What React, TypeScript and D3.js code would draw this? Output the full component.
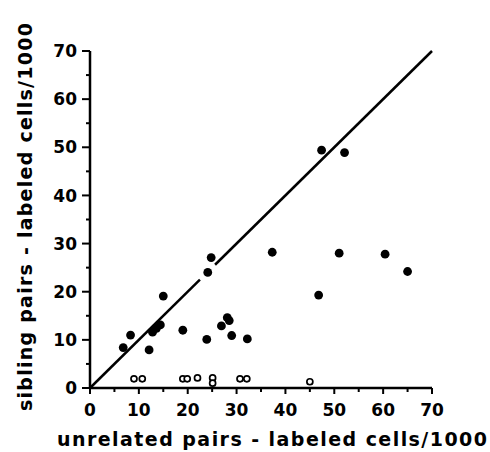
import React from "react";
import * as d3 from "d3";

// Labeled cells per 1000: unrelated pairs (x) vs sibling pairs (y)
const filledX = [6.8, 8.3, 12.1, 12.8, 13.6, 14.4, 15.0, 19.0, 23.9, 24.1, 24.8, 26.9, 28.1, 28.5, 29.0, 32.2, 37.3, 46.8, 47.4, 51.0, 52.1, 60.4, 65.0];
const filledY = [8.4, 11.0, 7.9, 11.6, 12.4, 13.1, 19.1, 12.0, 10.1, 24.0, 27.1, 12.9, 14.6, 14.0, 10.9, 10.2, 28.2, 19.3, 49.4, 28.0, 48.9, 27.8, 24.2];

const openX = [9.0, 10.7, 19.0, 19.9, 22.0, 25.1, 25.1, 30.7, 32.1, 45.0];
const openY = [1.9, 1.9, 1.9, 1.9, 2.1, 2.1, 1.0, 1.9, 1.9, 1.3];

const tickValues = [0, 10, 20, 30, 40, 50, 60, 70];
const minorTickValues = [5, 15, 25, 35, 45, 55, 65];

// identity line, drawn in two pieces around the crowded region
const identitySegments: [number, number][] = [
  [0, 22.5],
  [25.6, 70],
];

const xTitle = "unrelated  pairs - labeled  cells/1000";
const yTitle = "sibling  pairs - labeled  cells/1000";

export default function App() {
  const width = 490;
  const height = 452;
  const x = d3.scaleLinear().domain([0, 70]).range([90, 432]);
  const y = d3.scaleLinear().domain([0, 70]).range([388, 51]);
  const font = "'DejaVu Sans', Verdana, sans-serif";
  const line = d3
    .line<number>()
    .x((d) => x(d))
    .y((d) => y(d));

  return (
    <svg
      width={width}
      height={height}
      style={{ position: "absolute", left: 0, top: 0, background: "#fff" }}
    >
      {/* axes */}
      <line x1={x(0)} x2={x(70)} y1={y(0)} y2={y(0)} stroke="#000" strokeWidth={2.5} />
      <line x1={x(0)} x2={x(0)} y1={y(0)} y2={y(70)} stroke="#000" strokeWidth={2.5} />

      {/* x ticks */}
      {tickValues.map((t) => (
        <g key={"xt" + t}>
          <line x1={x(t)} x2={x(t)} y1={y(0)} y2={y(0) + 6} stroke="#000" strokeWidth={2} />
          <text
            x={x(t)}
            y={416}
            textAnchor="middle"
            fontFamily={font}
            fontWeight="bold"
            fontSize={17}
          >
            {t}
          </text>
        </g>
      ))}
      {minorTickValues.map((t) => (
        <line key={"xm" + t} x1={x(t)} x2={x(t)} y1={y(0)} y2={y(0) + 4} stroke="#000" strokeWidth={2} />
      ))}

      {/* y ticks */}
      {tickValues.map((t) => (
        <g key={"yt" + t}>
          <line x1={x(0) - 8} x2={x(0)} y1={y(t)} y2={y(t)} stroke="#000" strokeWidth={2} />
          <text
            x={77}
            y={y(t)}
            dy="0.36em"
            textAnchor="end"
            fontFamily={font}
            fontWeight="bold"
            fontSize={17}
          >
            {t}
          </text>
        </g>
      ))}
      {minorTickValues.map((t) => (
        <line key={"ym" + t} x1={x(0) - 4} x2={x(0)} y1={y(t)} y2={y(t)} stroke="#000" strokeWidth={2} />
      ))}

      {/* line of equality */}
      {identitySegments.map((seg, i) => (
        <path key={"seg" + i} d={line(seg) ?? ""} stroke="#000" strokeWidth={2.5} fill="none" />
      ))}

      {/* sibling pairs with labeled cells */}
      {filledX.map((v, i) => (
        <circle key={"f" + i} cx={x(v)} cy={y(filledY[i])} r={4.4} fill="#000" />
      ))}

      {/* pairs without labeled sibling cells */}
      {openX.map((v, i) => (
        <circle
          key={"o" + i}
          cx={x(v)}
          cy={y(openY[i])}
          r={3}
          fill="#fff"
          stroke="#000"
          strokeWidth={1.7}
        />
      ))}

      {/* axis titles */}
      <text
        x={272}
        y={446}
        textAnchor="middle"
        fontFamily={font}
        fontWeight="bold"
        fontSize={19}
        textLength={430}
        lengthAdjust="spacing"
      >
        {xTitle}
      </text>
      <text
        transform="translate(32,217) rotate(-90)"
        textAnchor="middle"
        fontFamily={font}
        fontWeight="bold"
        fontSize={19}
        textLength={388}
        lengthAdjust="spacing"
      >
        {yTitle}
      </text>
    </svg>
  );
}
